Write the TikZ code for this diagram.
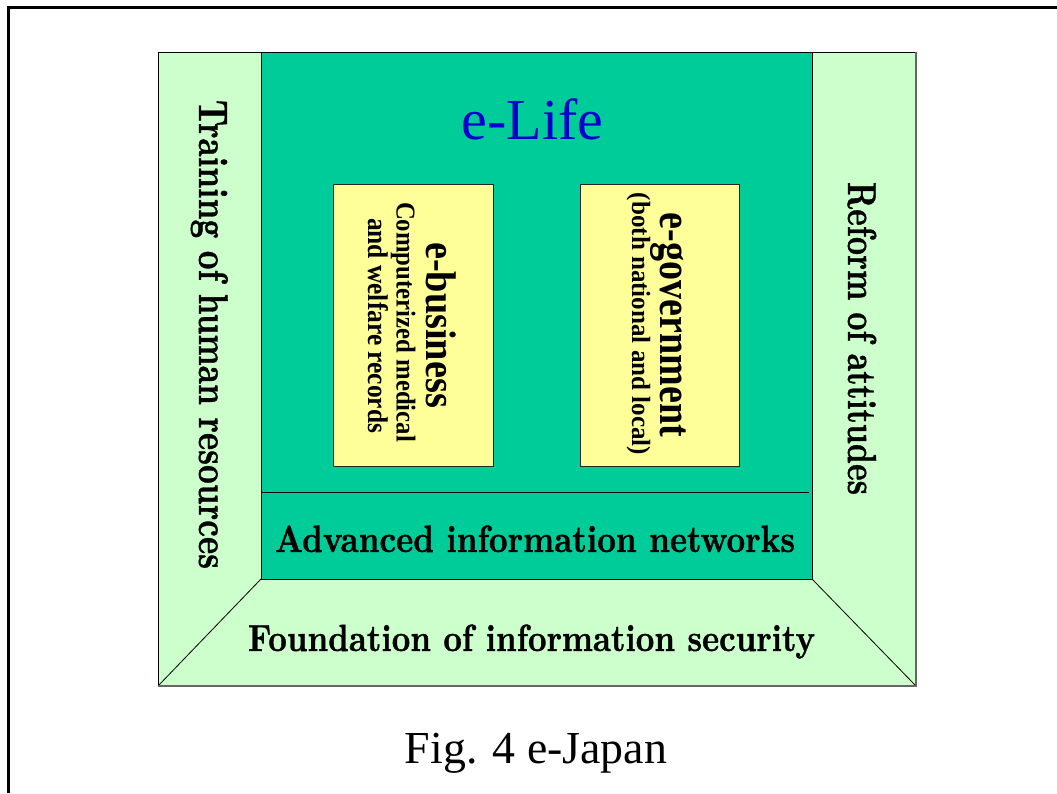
\documentclass[tikz,border=0pt]{standalone}
\usepackage{fontspec}
\usepackage{graphicx}
\newfontfamily\timesfont{Liberation Serif}
\newfontfamily\heavyfont{lmroman10-bold.otf}[FakeBold=1]
\definecolor{panelteal}{HTML}{00CC99}
\definecolor{panelmint}{HTML}{CCFFCC}
\definecolor{panelyellow}{HTML}{FFFF99}
\definecolor{lifeblue}{HTML}{0000CC}
% scale a piece of text to a given width, then stretch it vertically
\newcommand{\fitto}[3]{\scalebox{1}[#2]{\resizebox{#1}{!}{#3}}}
\begin{document}
\begin{tikzpicture}[x=1pt,y=-1pt,
  edge/.style={draw=black,line width=0.8pt},
  rim/.style={draw=black!60,line width=1.4pt},
  label/.style={inner sep=0pt,anchor=base},
  side/.style={label,rotate=-90},
  card/.style={draw=black!85,line width=0.8pt,fill=panelyellow,
    minimum height=282pt,inner sep=0pt}]
\useasboundingbox (0,0) rectangle (1057,793);

% page frame
\draw[line width=3pt] (8,793) -- (8,7) -- (1057,7);

% corners of the outer square and of the inner core
\coordinate (oTL) at (158,52);
\coordinate (oTR) at (916,52);
\coordinate (oBR) at (916,686);
\coordinate (oBL) at (158,686);
\coordinate (iTL) at (261,52);
\coordinate (iTR) at (812,52);
\coordinate (iBR) at (812,579);
\coordinate (iBL) at (261,579);
\coordinate (netL) at (261,492);
\coordinate (netR) at (809,492);

% surrounding frame panels
\fill[panelmint] (oTL) -- (oTR) -- (oBR) -- (oBL) -- cycle;
\fill[panelteal] (iTL) rectangle (iBR);

\draw[edge] (iTL) -- (iBL) -- (iBR) -- (iTR);
\draw[edge] (oBL) -- (iBL);
\draw[edge] (oBR) -- (iBR);
\draw[edge] (netL) -- (netR);
\draw[edge] (oBL) -- (oTL) -- (oTR);
\draw[rim] (oTR) -- (oBR) -- (oBL);

% headline of the core
\node[label,text=lifeblue] (life) at (532.5,139)
  {\fitto{141.5pt}{1}{\timesfont\fontsize{58}{60}\selectfont e-Life}};

% the two service cards
\node[card,minimum width=160pt] (biz) at (413,325) {};
\node[card,minimum width=159pt] (gov) at (659.5,325) {};

\node[side] (bizhead) at (426.5,325)
  {\fitto{166pt}{1.12}{\timesfont\bfseries e-business}};
\node[side] (bizline1) at (396.5,322)
  {\fitto{240pt}{1.1}{\timesfont\bfseries Computerized medical}};
\node[side] (bizline2) at (368,325.5)
  {\fitto{215pt}{1.12}{\timesfont\bfseries and welfare records}};

\node[side] (govhead) at (660,325)
  {\fitto{224pt}{1.2}{\timesfont\bfseries e-government}};
\node[side] (govline) at (632,324)
  {\fitto{262pt}{1.05}{\timesfont\bfseries (both national and local)}};

% network layer and foundation
\node[label] (net) at (535,552)
  {\fitto{520pt}{1.17}{\heavyfont Advanced information networks}};
\node[label] (sec) at (531.5,651)
  {\fitto{567pt}{1.17}{\heavyfont Foundation of information security}};

% side panels
\node[side] (train) at (199,334.5)
  {\fitto{469pt}{1.26}{\heavyfont Training of human resources}};
\node[side] (reform) at (848,338.5)
  {\fitto{313pt}{1.28}{\heavyfont Reform of attitudes}};

% caption
\node[label] (cap) at (536,763)
  {\fitto{262pt}{1}{\timesfont Fig. 4 e-Japan}};
\end{tikzpicture}
\end{document}
